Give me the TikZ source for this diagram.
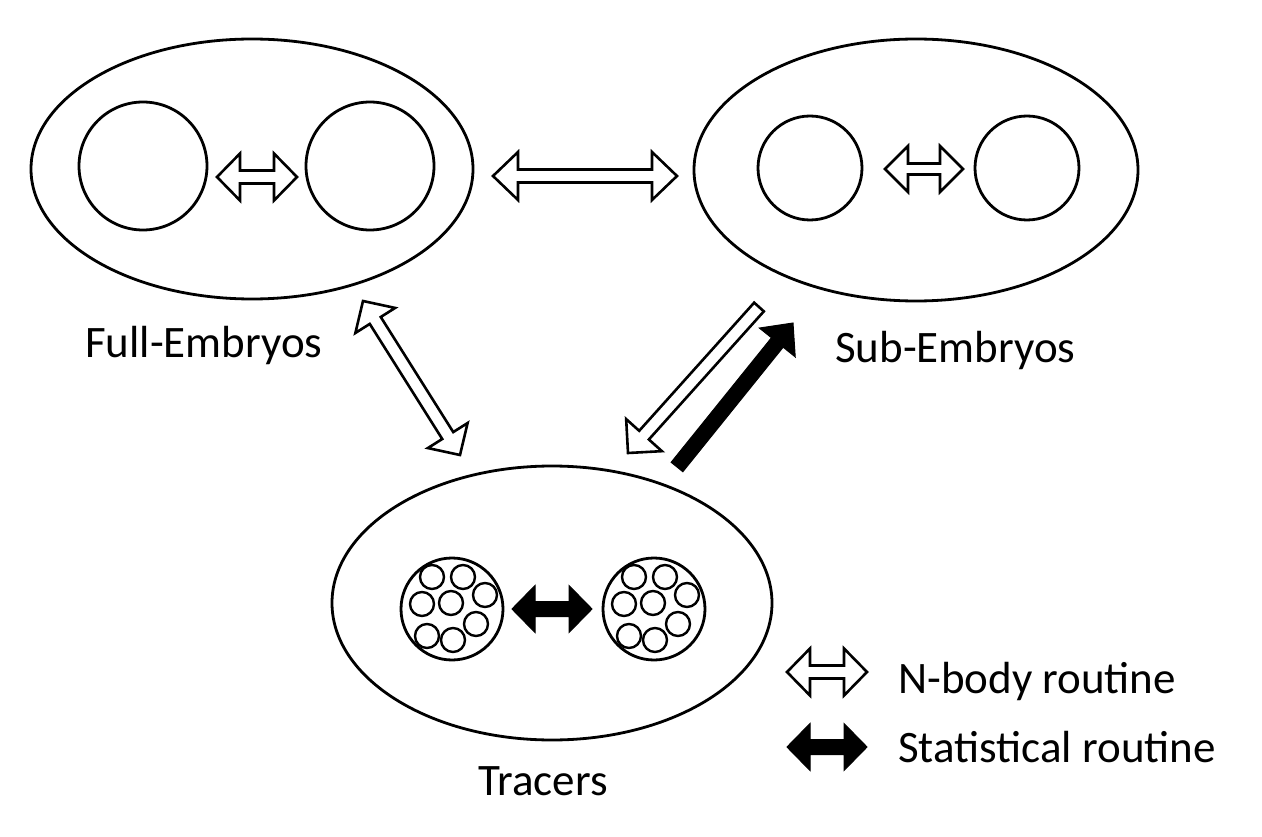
\documentclass[tikz,border=0pt]{standalone}
\usepackage{fontspec}
\setmainfont{Carlito}
\usetikzlibrary{shapes.geometric,calc}
\tikzset{
 region/.style={ellipse,draw,line width=2.8pt,inner sep=0pt},
 body/.style={circle,draw,line width=2.8pt,inner sep=0pt},
 grain/.style={circle,draw,line width=2.4pt,inner sep=0pt,minimum size=24pt},
 hollow/.style={draw,fill=white,line width=2.6pt,line join=miter},
 solid/.style={draw,fill=black,line width=1pt,line join=miter},
 lbl/.style={anchor=base west,inner sep=0pt,font=\fontsize{45}{54}\selectfont}
}
% double block arrow: style, end a, end b, head length, head half width, shaft half width
\newcommand\DArrow[6]{%
  \coordinate (ap) at ($(#2)!#4!(#3)$);
  \coordinate (aq) at ($(#3)!#4!(#2)$);
  \path[#1] (#2) -- ($(ap)!#5!90:(#3)$) -- ($(ap)!#6!90:(#3)$) -- ($(aq)!#6!-90:(#2)$) -- ($(aq)!#5!-90:(#2)$) -- (#3) -- ($(aq)!#5!90:(#2)$) -- ($(aq)!#6!90:(#2)$) -- ($(ap)!#6!-90:(#3)$) -- ($(ap)!#5!-90:(#3)$) -- cycle;}
% single block arrow: style, tail, tip, head length, head half width, shaft half width
\newcommand\SArrow[6]{%
  \coordinate (aq) at ($(#3)!#4!(#2)$);
  \path[#1] ($(#2)!#6!90:(#3)$) -- ($(aq)!#6!-90:(#2)$) -- ($(aq)!#5!-90:(#2)$) -- (#3) -- ($(aq)!#5!90:(#2)$) -- ($(aq)!#6!90:(#2)$) -- ($(#2)!#6!-90:(#3)$) -- cycle;}
\begin{document}
\begin{tikzpicture}[x=1pt,y=-1pt]
\useasboundingbox[fill=white] (0,0) rectangle (1262,837);
% regions
\node[region,minimum width=442pt,minimum height=260pt] (full) at (252,169) {};
\node[region,minimum width=444pt,minimum height=262pt] (sub) at (916,170) {};
\node[region,minimum width=440pt,minimum height=274pt] (trac) at (552,603) {};
% bodies
\node[body,minimum size=128pt] (f1) at (143,166) {};
\node[body,minimum size=128pt] (f2) at (370,166) {};
\node[body,minimum size=104pt] (s1) at (810,168) {};
\node[body,minimum size=104pt] (s2) at (1027,168) {};
\node[body,minimum size=102pt] (t1) at (452,609) {};
\node[body,minimum size=102pt] (t2) at (654,609) {};
\foreach \c in {t1,t2}{
  \foreach \dx/\dy [count=\k] in {-20/-32, 11/-32, 33/-14, -30/-5, -1/-6, 24/15, -25/27, 1/31}{
    \node[grain] (\c-\k) at ($(\c)+(\dx,\dy)$) {};
  }
}
% arrow end points
\coordinate (fa) at (217,177); \coordinate (fb) at (297,177);
\coordinate (sa) at (885,169); \coordinate (sb) at (963,169);
\coordinate (ta) at (512,609); \coordinate (tb) at (592,609);
\coordinate (fsa) at (493,176); \coordinate (fsb) at (677,176);
\coordinate (fta) at (363,301); \coordinate (ftb) at (460,455);
\coordinate (sta) at (759,307); \coordinate (stb) at (628,453);
\coordinate (tsa) at (677,467); \coordinate (tsb) at (793,323);
\coordinate (la) at (787,672); \coordinate (lb) at (867,672);
\coordinate (ma) at (787,747); \coordinate (mb) at (867,747);
% arrows
\DArrow{hollow}{fa}{fb}{23pt}{23.5pt}{6.5pt}
\DArrow{hollow}{sa}{sb}{23pt}{23pt}{5.5pt}
\DArrow{solid}{ta}{tb}{23pt}{23.5pt}{7.5pt}
\DArrow{hollow}{fsa}{fsb}{25pt}{24pt}{6.5pt}
\DArrow{hollow}{fta}{ftb}{23pt}{23.5pt}{6.5pt}
\SArrow{hollow}{sta}{stb}{24pt}{24pt}{6.5pt}
\SArrow{solid}{tsa}{tsb}{25pt}{23pt}{7.5pt}
\DArrow{hollow}{la}{lb}{23pt}{23.5pt}{6.5pt}
\DArrow{solid}{ma}{mb}{23pt}{23.5pt}{7.5pt}
% labels
\node[lbl] (lfull) at (85,357) {Full-Embryos};
\node[lbl] (lsub) at (835,362) {Sub-Embryos};
\node[lbl] (ltrac) at (478,795) {Tracers};
\node[lbl] (lnb) at (898,693) {N-body routine};
\node[lbl] (lst) at (898,762) {Statistical routine};
\end{tikzpicture}
\end{document}
